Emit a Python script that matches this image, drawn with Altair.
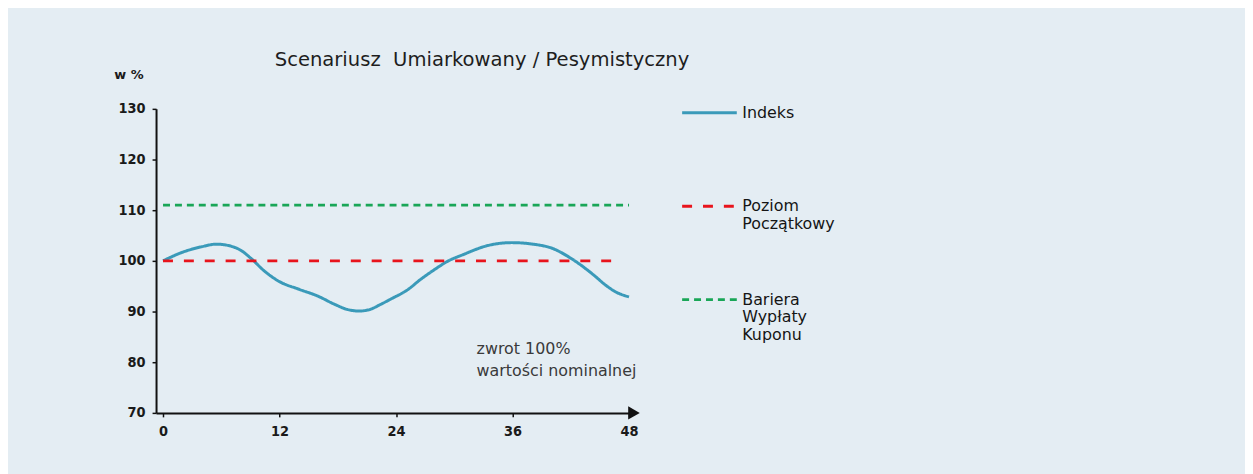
import altair as alt
import pandas as pd

# ---- data ----
index_months = [0, 2, 4, 5.5, 7, 8, 9, 10.5, 12, 14, 16, 17.7, 19, 20.2, 21.3, 22.4,
                23.5, 25.2, 26.5, 27.9, 29.3, 31, 33.4, 35.9, 38.1, 40.2, 41.6, 42.8,
                44.3, 45.6, 46.7, 48]
index_values = [100, 101.7, 102.8, 103.3, 102.9, 102.1, 100.6, 97.9, 95.9, 94.4, 93.0,
                91.4, 90.4, 90.1, 90.4, 91.4, 92.5, 94.3, 96.3, 98.2, 99.9, 101.3, 103.0,
                103.6, 103.3, 102.4, 101.0, 99.5, 97.3, 95.2, 93.8, 92.9]
initial_months = [0, 47.2]
initial_values = [100, 100]
barrier_months = [0, 48]
barrier_values = [111, 111]

series_names = ["Indeks||", "Poziom|Początkowy|", "Bariera|Wypłaty|Kuponu"]
series_colors = ["#3a9ab9", "#e8141c", "#19a657"]
series_dashes = [[1, 0], [10, 11], [7, 5]]

x_ticks = [0, 12, 24, 36, 48]
y_ticks = [70, 80, 90, 100, 110, 120, 130]
x_domain = [-0.72, 48.61]
y_domain = [70, 130]

note_x = [32.3]
note_y = [81.6]
note_text = ["zwrot 100%\nwartości nominalnej"]

title_text = "Scenariusz\u00a0 Umiarkowany / Pesymistyczny"
y_title = "w %"

FONT = "DejaVu Sans"
LABEL_FONT = "DejaVu Sans Condensed, DejaVu Sans"

rows = []
for m, v in zip(index_months, index_values):
    rows.append({"series": series_names[0], "month": m, "value": v})
for m, v in zip(initial_months, initial_values):
    rows.append({"series": series_names[1], "month": m, "value": v})
for m, v in zip(barrier_months, barrier_values):
    rows.append({"series": series_names[2], "month": m, "value": v})
df = pd.DataFrame(rows)

legend = alt.Legend(
    title=None,
    orient="none",
    legendX=528,
    legendY=-25,
    padding=0,
    symbolType="stroke",
    symbolSize=3025,
    symbolStrokeWidth=3,
    labelExpr="split(datum.label, '|')",
    labelFont=FONT,
    labelFontSize=16,
    labelColor="#151515",
    labelOffset=4,
    labelBaseline="middle",
    rowPadding=21,
    labelLimit=300,
)

x_enc = alt.X(
    "month:Q",
    scale=alt.Scale(domain=x_domain, nice=False, zero=False),
    axis=alt.Axis(values=x_ticks, title=None, grid=False, tickSize=4,
                  labelPadding=8, labelFont=LABEL_FONT, labelFontSize=14.5,
                  labelFontWeight="bold",
                  labelColor="#1a1a1a", domainColor="#111111", domainWidth=2,
                  tickColor="#111111", tickWidth=1.5, labelFlush=False),
)
y_enc = alt.Y(
    "value:Q",
    scale=alt.Scale(domain=y_domain, nice=False, zero=False),
    axis=alt.Axis(values=y_ticks, title=y_title, grid=False, tickSize=4,
                  labelPadding=7, labelFont=LABEL_FONT, labelFontSize=14.5,
                  labelFontWeight="bold",
                  labelColor="#1a1a1a", domainColor="#111111", domainWidth=2,
                  tickColor="#111111", tickWidth=1.5,
                  titleAngle=0, titleAlign="right", titleBaseline="middle",
                  titleX=-13, titleY=-35, titleFont=FONT, titleFontSize=13,
                  titleFontWeight="bold", titleColor="#1a1a1a"),
)

lines = alt.Chart(df).mark_line(strokeWidth=3, interpolate="monotone", clip=False).encode(
    x=x_enc,
    y=y_enc,
    color=alt.Color("series:N", scale=alt.Scale(domain=series_names, range=series_colors),
                    legend=legend, sort=series_names),
    strokeDash=alt.StrokeDash("series:N", scale=alt.Scale(domain=series_names, range=series_dashes),
                              legend=legend, sort=series_names),
    detail="series:N",
)

note_df = pd.DataFrame({"month": note_x, "value": note_y, "text": note_text})
note = alt.Chart(note_df).mark_text(
    align="left", baseline="alphabetic", lineBreak="\n", font=FONT, fontSize=16,
    lineHeight=22, color="#3a3a3a", fontWeight="normal",
).encode(x="month:Q", y="value:Q", text="text:N")

arrow_df = pd.DataFrame({"month": [x_domain[1] - 0.1], "value": [y_domain[0]]})
arrow = alt.Chart(arrow_df).mark_point(
    shape="triangle-right", filled=True, size=180, color="#111111", opacity=1, clip=False
).encode(x="month:Q", y="value:Q")

chart = alt.layer(lines, note, arrow).properties(
    width=482,
    height=306,
    padding={"left": 149, "top": 100, "right": 614, "bottom": 60},
    autosize=alt.AutoSizeParams(type="none"),
    background="#e4edf3",
    title=alt.TitleParams(title_text, anchor="start", dx=162, dy=32, font=FONT, fontSize=19.7,
                          fontWeight="normal", color="#1e1e1e", offset=30),
).configure_view(stroke=None)

chart.save("out.html", embed_options={"renderer": "svg", "actions": False})
